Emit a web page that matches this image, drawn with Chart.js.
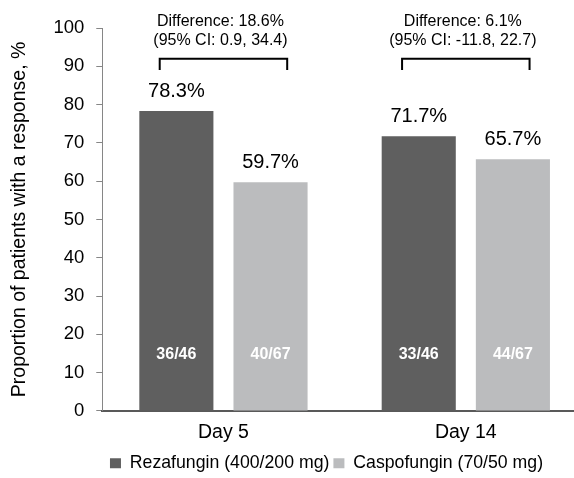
<!DOCTYPE html>
<html>
<head>
<meta charset="utf-8">
<script src="https://cdn.jsdelivr.net/npm/chart.js@4"></script>
<style>
  html, body { margin: 0; padding: 0; background: #fff; overflow: hidden; }
  #wrap { position: absolute; left: 0; top: 0; width: 587px; height: 478px; }
</style>
</head>
<body>
<div id="wrap"><canvas id="c"></canvas></div>
<script>
const categories = ['Day 5', 'Day 14'];
const seriesNames = ['Rezafungin (400/200 mg)', 'Caspofungin (70/50 mg)'];
const rezafungin = [78.3, 71.7];
const caspofungin = [59.7, 65.7];
const rezafunginCounts = ['36/46', '33/46'];
const caspofunginCounts = ['40/67', '44/67'];
const differenceLabels = ['Difference: 18.6%', 'Difference: 6.1%'];
const ciLabels = ['(95% CI: 0.9, 34.4)', '(95% CI: -11.8, 22.7)'];
const yTicks = [0, 10, 20, 30, 40, 50, 60, 70, 80, 90, 100];

const FONT = '"Liberation Sans", Arial, Helvetica, sans-serif';
const counts = [rezafunginCounts, caspofunginCounts];

// Percent labels, n/N labels inside bars, and difference brackets
const annotate = {
  id: 'annotate',
  afterLayout(chart) {
    // nudge the legend right and down, towards the middle of the plot
    const lg = chart.legend;
    if (lg) {
      lg.left += 29; lg.right += 29;
      lg.top += 4; lg.bottom += 4;
    }
  },
  afterDatasetsDraw(chart) {
    const ctx = chart.ctx, xs = chart.scales.x, ys = chart.scales.y;
    ctx.save();
    ctx.textAlign = 'center';
    ctx.textBaseline = 'middle';
    chart.data.datasets.forEach((ds, di) => {
      chart.getDatasetMeta(di).data.forEach((bar, i) => {
        ctx.fillStyle = '#000';
        ctx.font = '20px ' + FONT;
        ctx.fillText(ds.data[i].toFixed(1) + '%', bar.x, bar.y - 20);
        ctx.fillStyle = '#fff';
        ctx.font = 'bold 16px ' + FONT;
        ctx.fillText(counts[di][i], bar.x, bar.base - 56);
      });
    });
    const half = (xs.getPixelForValue(1) - xs.getPixelForValue(0)) * 0.263;
    categories.forEach((c, i) => {
      const cx = xs.getPixelForValue(i);
      const top = ys.getPixelForValue(92);
      const foot = ys.getPixelForValue(89);
      ctx.strokeStyle = '#000';
      ctx.lineWidth = 2;
      ctx.beginPath();
      ctx.moveTo(cx - half, foot);
      ctx.lineTo(cx - half, top);
      ctx.lineTo(cx + half, top);
      ctx.lineTo(cx + half, foot);
      ctx.stroke();
      ctx.fillStyle = '#000';
      ctx.font = '16px ' + FONT;
      ctx.fillText(differenceLabels[i], cx - 3, top - 37);
      ctx.fillText(ciLabels[i], cx - 3, top - 18);
    });
    ctx.restore();
  }
};

new Chart(document.getElementById('c'), {
  type: 'bar',
  data: {
    labels: categories,
    datasets: [
      { label: seriesNames[0], data: rezafungin, backgroundColor: '#5f5f5f', borderWidth: 0,
        categoryPercentage: 0.777, barPercentage: 0.787 },
      { label: seriesNames[1], data: caspofungin, backgroundColor: '#bbbcbe', borderWidth: 0,
        categoryPercentage: 0.777, barPercentage: 0.787 }
    ]
  },
  options: {
    responsive: true,
    maintainAspectRatio: false,
    animation: false,
    layout: { padding: { top: 28, left: 8, right: 0, bottom: 0 } },
    plugins: {
      legend: {
        position: 'bottom',
        labels: {
          boxWidth: 11, boxHeight: 10, padding: 4, color: '#000',
          font: { family: FONT, size: 17.7 }
        }
      },
      tooltip: { enabled: false }
    },
    scales: {
      x: {
        grid: { display: false },
        border: { display: true, color: '#595959', width: 2 },
        ticks: { color: '#000', font: { family: FONT, size: 19.5 }, padding: 2 }
      },
      y: {
        min: 0, max: 100,
        afterBuildTicks(scale) { scale.ticks = yTicks.map(v => ({ value: v })); },
        grid: { drawOnChartArea: false, drawTicks: true, tickLength: 6, color: '#868686' },
        border: { display: true, color: '#868686', width: 1 },
        ticks: { color: '#000', font: { family: FONT, size: 18.5 }, padding: 12 },
        title: {
          display: true, text: 'Proportion of patients with a response, %',
          color: '#000', font: { family: FONT, size: 19.5 }, padding: { top: 0, bottom: 10 }
        }
      }
    }
  },
  plugins: [annotate]
});
</script>
</body>
</html>
